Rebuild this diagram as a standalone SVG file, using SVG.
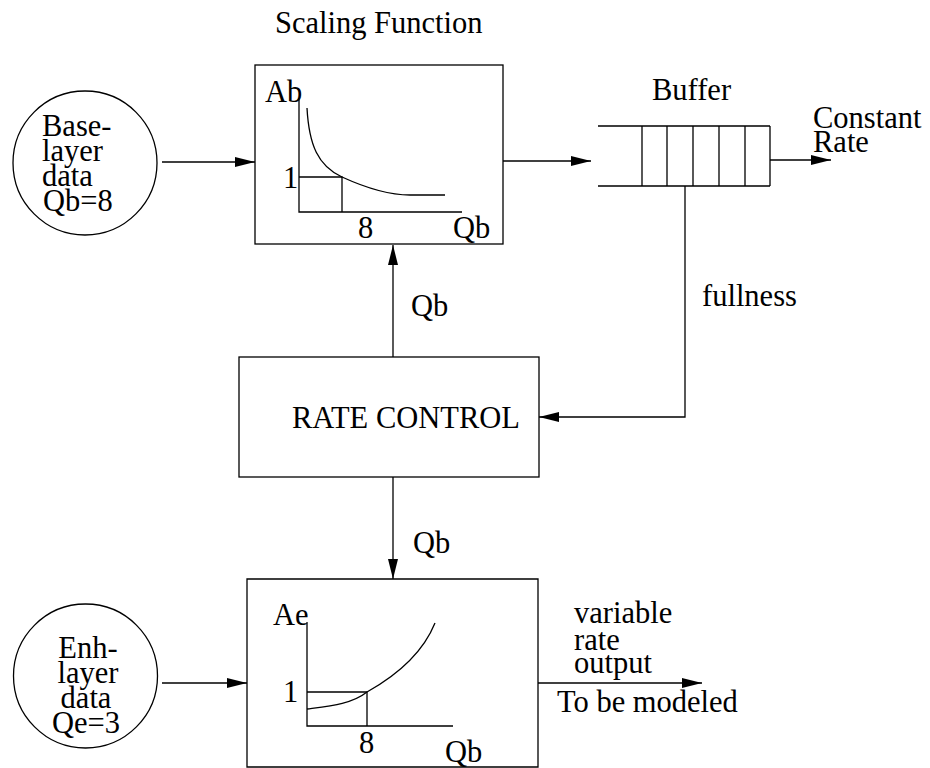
<svg xmlns="http://www.w3.org/2000/svg" width="930" height="768" viewBox="0 0 930 768">
  <defs>
    <marker id="arrow" markerUnits="userSpaceOnUse" markerWidth="22" markerHeight="12" refX="20" refY="5" orient="auto">
      <path d="M0,0 L20,5 L0,10 z" fill="#000"/>
    </marker>
    <style>
      text { font-family: "Liberation Serif", "Times New Roman", serif; font-size: 30.5px; fill: #000; }
      .shape { fill: none; stroke: #000; stroke-width: 1.3; }
      .wire { fill: none; stroke: #000; stroke-width: 1.3; marker-end: url(#arrow); }
      .mid { text-anchor: middle; }
    </style>
  </defs>
  <rect width="930" height="768" fill="#fff"/>

  <!-- Base-layer source -->
  <g id="base-layer">
    <circle class="shape" cx="85" cy="163" r="72"/>
    <text x="42" y="136">Base-</text>
    <text x="42" y="161">layer</text>
    <text x="42" y="186">data</text>
    <text x="43" y="211">Qb=8</text>
  </g>

  <!-- Scaling function block -->
  <g id="scaling-function">
    <text x="275" y="33">Scaling Function</text>
    <rect class="shape" x="255" y="65" width="248" height="179"/>
    <text x="265" y="102">Ab</text>
    <path class="shape" d="M299,98 L299,212 L462,212"/>
    <path class="shape" d="M299,177 L342,177 L342,212"/>
    <path class="shape" d="M307,108 C309,145 318,166 342,177 C366,188 390,195 410,195 L445,195"/>
    <text x="283" y="188">1</text>
    <text x="358" y="238">8</text>
    <text x="453" y="238">Qb</text>
  </g>

  <!-- Output buffer -->
  <g id="buffer">
    <text x="652" y="100">Buffer</text>
    <path class="shape" d="M598,126 L770,126 M598,186 L770,186"/>
    <path class="shape" d="M642,126 V186 M667,126 V186 M693,126 V186 M719,126 V186 M745,126 V186 M770,126 V186"/>
    <text x="813" y="128">Constant</text>
    <text x="813" y="152">Rate</text>
  </g>

  <!-- Rate control block -->
  <g id="rate-control">
    <rect class="shape" x="239" y="357" width="300" height="120"/>
    <text x="292" y="428">RATE CONTROL</text>
  </g>

  <!-- Enhancement-layer source -->
  <g id="enh-layer">
    <circle class="shape" cx="85.5" cy="676" r="72"/>
    <text class="mid" x="88" y="658">Enh-</text>
    <text class="mid" x="88" y="683">layer</text>
    <text class="mid" x="86" y="708">data</text>
    <text class="mid" x="86" y="733">Qe=3</text>
  </g>

  <!-- Enhancement scaling block -->
  <g id="enh-scaling">
    <path class="shape" d="M247,767 L247,579 L538,579 L538,767 Z"/>
    <text x="273" y="625">Ae</text>
    <path class="shape" d="M307,622 L307,726 L453,726"/>
    <path class="shape" d="M307,692 L367,692 L367,726"/>
    <path class="shape" d="M307,709 C330,706 352,704 367,692 C392,678 422,655 435,623"/>
    <text x="283" y="702">1</text>
    <text x="359" y="753">8</text>
    <text x="445" y="762">Qb</text>
  </g>

  <!-- Output label -->
  <g id="variable-output">
    <text x="574" y="623">variable</text>
    <text x="574" y="650">rate</text>
    <text x="574" y="673">output</text>
    <text x="557" y="712">To be modeled</text>
  </g>

  <!-- Connectors -->
  <g id="connectors">
    <path class="wire" d="M162,162 L255,162"/>
    <path class="wire" d="M503,161 L591,161"/>
    <path class="wire" d="M770,160 L831,160"/>
    <path class="wire" d="M685,186 L685,417 L539,417"/>
    <path class="wire" d="M393,357 L393,245"/>
    <path class="wire" d="M393,477 L393,579"/>
    <path class="wire" d="M162,683 L247,683"/>
    <path class="wire" d="M538,683 L702,683"/>
    <text x="411" y="316">Qb</text>
    <text x="413" y="553">Qb</text>
    <text x="702" y="306">fullness</text>
  </g>
</svg>
